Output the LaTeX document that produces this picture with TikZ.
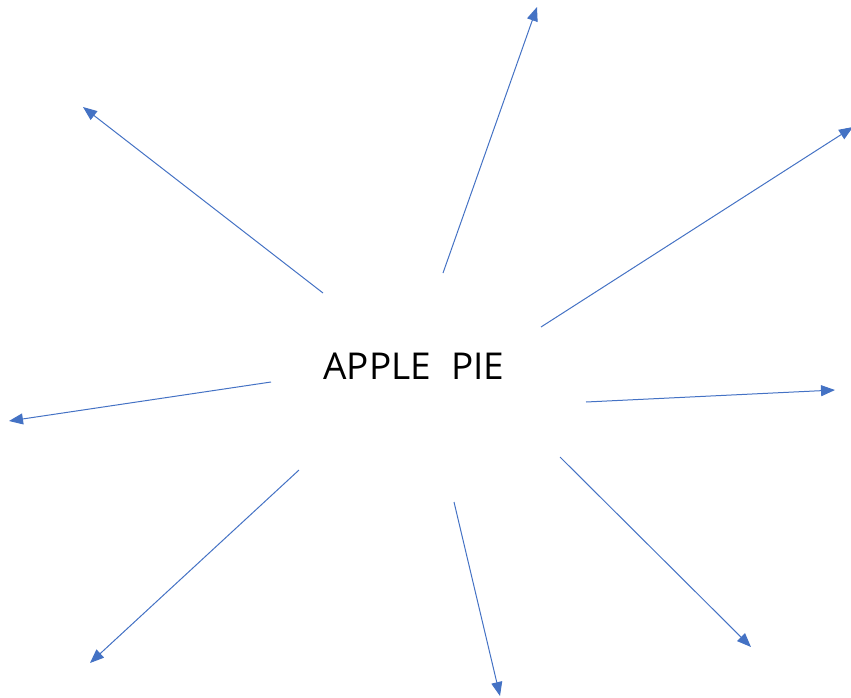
\documentclass[tikz,border=0pt]{standalone}
\usepackage{fontspec}
\setmainfont{Open Sans}
\usetikzlibrary{arrows.meta}
\definecolor{arrowblue}{HTML}{4472C4}
\begin{document}
\begin{tikzpicture}[x=1pt,y=-1pt,
  ray/.style={draw=arrowblue, line width=1pt, -{Triangle[length=14pt,width=11pt]}}]
\useasboundingbox (0,0) rectangle (851,697);
\node[font=\fontsize{37}{44}\selectfont, inner sep=0pt] (c) at (414,366) {APPLE\hspace{20pt}PIE};
\coordinate (s1) at (443,273); \coordinate (e1) at (537,7);
\coordinate (s2) at (323,293); \coordinate (e2) at (83,107);
\coordinate (s3) at (541,327); \coordinate (e3) at (853,127);
\coordinate (s4) at (271,382); \coordinate (e4) at (9,421);
\coordinate (s5) at (586,402); \coordinate (e5) at (835,390);
\coordinate (s6) at (299,470); \coordinate (e6) at (90,663);
\coordinate (s7) at (454,502); \coordinate (e7) at (500,696);
\coordinate (s8) at (560,457); \coordinate (e8) at (751,647);
\foreach \i in {1,...,8} \draw[ray] (s\i) -- (e\i);
\end{tikzpicture}
\end{document}
